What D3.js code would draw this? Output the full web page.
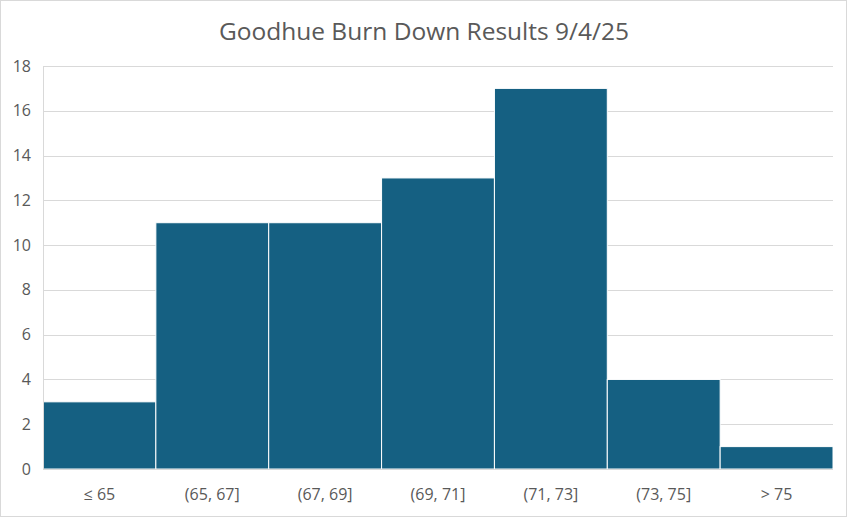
<!DOCTYPE html>
<html>
<head>
<meta charset="utf-8">
<script src="https://d3js.org/d3.v7.min.js"></script>
<style>
  body { margin: 0; background: #fff; }
  svg { font-family: "Open Sans", "Noto Sans", sans-serif; display: block; }
</style>
</head>
<body>
<svg width="848" height="518"></svg>
<script>
var categories = ["\u2264 65", "(65, 67]", "(67, 69]", "(69, 71]", "(71, 73]", "(73, 75]", "> 75"];
var counts = [3, 11, 11, 13, 17, 4, 1];
var yTicks = [0, 2, 4, 6, 8, 10, 12, 14, 16, 18];
var title = "Goodhue Burn Down Results 9/4/25";

var svg = d3.select("svg"),
    width = +svg.attr("width"),
    height = +svg.attr("height");

var margin = {top: 66, right: 15, bottom: 49, left: 43};

// chart border
svg.append("rect")
    .attr("x", 0.5).attr("y", 0.5)
    .attr("width", width - 2).attr("height", height - 2)
    .attr("fill", "#fff")
    .attr("stroke", "#d9d9d9");

var x = d3.scaleBand()
    .domain(categories)
    .range([margin.left, width - margin.right])
    .padding(0);

var y = d3.scaleLinear()
    .domain([0, 18])
    .range([height - margin.bottom, margin.top]);

// gridlines
svg.append("g")
    .selectAll("line")
    .data(yTicks.slice(1))
    .enter().append("line")
    .attr("x1", margin.left).attr("x2", width - margin.right)
    .attr("y1", function(d) { return Math.round(y(d)) + 0.5; })
    .attr("y2", function(d) { return Math.round(y(d)) + 0.5; })
    .attr("stroke", "#d9d9d9");

// bars
svg.append("g")
    .selectAll("rect")
    .data(counts)
    .enter().append("rect")
    .attr("x", function(d, i) { return x(categories[i]); })
    .attr("y", function(d) { return y(d); })
    .attr("width", x.bandwidth())
    .attr("height", function(d) { return y(0) - y(d); })
    .attr("fill", "#156082")
    .attr("stroke", "#fff")
    .attr("stroke-width", 1);

// axis lines
svg.append("line")
    .attr("x1", margin.left + 0.5).attr("x2", margin.left + 0.5)
    .attr("y1", margin.top).attr("y2", y(0))
    .attr("stroke", "#d9d9d9");
svg.append("line")
    .attr("x1", margin.left).attr("x2", width - margin.right)
    .attr("y1", Math.round(y(0)) + 0.5).attr("y2", Math.round(y(0)) + 0.5)
    .attr("stroke", "#d9d9d9");

// y tick labels
svg.append("g")
    .selectAll("text")
    .data(yTicks)
    .enter().append("text")
    .attr("x", 31)
    .attr("y", function(d) { return y(d); })
    .attr("dy", "0.35em")
    .attr("text-anchor", "end")
    .attr("font-size", "16px")
    .attr("fill", "#595959")
    .text(function(d) { return d; });

// x labels
svg.append("g")
    .selectAll("text")
    .data(categories)
    .enter().append("text")
    .attr("x", function(d) { return x(d) + x.bandwidth() / 2; })
    .attr("y", 494)
    .attr("dy", "0.35em")
    .attr("text-anchor", "middle")
    .attr("font-size", "16px")
    .attr("fill", "#595959")
    .text(function(d) { return d; });

// title
svg.append("text")
    .attr("x", width / 2)
    .attr("y", 31)
    .attr("dy", "0.35em")
    .attr("text-anchor", "middle")
    .attr("font-size", "24.5px")
    .attr("fill", "#595959")
    .text(title);
</script>
</body>
</html>
